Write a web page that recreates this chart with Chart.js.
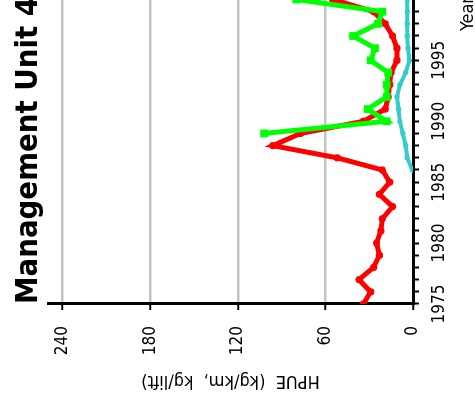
<!DOCTYPE html>
<html><head><meta charset="utf-8">
<script src="https://cdn.jsdelivr.net/npm/chart.js@4"></script>
<style>
html,body{margin:0;padding:0;width:475px;height:404px;overflow:hidden;background:#fff;}
#wrap{position:absolute;left:0;top:0;width:460px;height:493px;transform-origin:0 0;transform:translate(0px,404px) rotate(-90deg);}
</style></head><body>
<div id="wrap"><canvas id="c" width="460" height="493"></canvas></div>
<script>
// Data
const years = [1975,1976,1977,1978,1979,1980,1981,1982,1983,1984,1985,1986,1987,1988,1989,1990,1991,1992,1993,1994,1995,1996,1997,1998,1999,2000];
const redHPUE   = [34,29,37,27,23,25,22,21,14,23,16,21,52,96,77,34,19,17,16,15,11,11,14,19,27,55];
const greenHPUE = [null,null,null,null,null,null,null,null,null,null,null,null,null,null,102,18,31,18,18,17,29,26,41,24,21,80];
const cyanHPUE  = [null,null,null,null,null,null,null,null,null,null,null,0.5,4,5,7,9,10,11,9,5,2.5,3.5,4,4,4,4];
const hpueTicks = [0,60,120,180,240];
const yearLabelStep = 5;
const titleText = 'Management Unit 4';
const xTitle = 'Year';
const yTitle = 'HPUE  (kg/km,  kg/lift)';

const FONT = "'DejaVu Sans Condensed','DejaVu Sans',sans-serif";
const pts = arr => years.map((yr,i)=>({x:yr,y:arr[i]})).filter(p=>p.y!==null);

new Chart(document.getElementById('c'), {
  type: 'line',
  data: {
    datasets: [
      {data: pts(greenHPUE), borderColor:'#00ff00', backgroundColor:'#00ff00', borderWidth:5, pointStyle:'rect', pointRadius:5.5, pointBorderWidth:0},
      {data: pts(redHPUE), borderColor:'#ff0000', backgroundColor:'#ff0000', borderWidth:5, pointStyle:'circle', pointRadius:3.6, pointBorderWidth:0},
      {data: pts(cyanHPUE), borderColor:'#33cccc', backgroundColor:'#33cccc', borderWidth:4, pointStyle:'circle', pointRadius:2.6, pointBorderWidth:0}
    ]
  },
  options: {
    responsive:false, animation:false, devicePixelRatio:1,
    layout:{padding:{left:0,right:53,top:0,bottom:0}},
    plugins:{
      legend:{display:false}, tooltip:{enabled:false},
      title:{display:true, text:titleText, fullSize:false, color:'#000',
             font:{family:FONT, size:31, weight:'bold'}, padding:{top:10,bottom:0.8}}
    },
    scales:{
      x:{type:'linear', min:1975, max:2000.2, position:'bottom',
         afterBuildTicks: s => { s.ticks = s.ticks.filter(t => Number.isInteger(t.value)); },
         afterFit: s => { s.height = 80; },
         grid:{display:true, drawOnChartArea:false, drawTicks:true, tickLength:6, tickColor:'#000', tickWidth:2},
         border:{display:true, color:'#000', width:3},
         ticks:{stepSize:1, autoSkip:false, maxRotation:0, minRotation:0, padding:10, color:'#000',
                font:{family:FONT, size:17}, callback: v => (v % yearLabelStep === 0 ? String(v) : '')},
         title:{display:true, text:xTitle, align:'end', color:'#000', font:{family:FONT, size:18}, padding:{top:0,bottom:14}}
      },
      y:{type:'linear', min:0, max:250, position:'left',
         afterBuildTicks: s => { s.ticks = hpueTicks.map(v => ({value:v})); },
         afterFit: s => { s.width = 100; },
         grid:{display:true, drawOnChartArea:true, drawTicks:true, tickLength:6, tickColor:'#000', tickWidth:2,
               lineWidth:2.5, color: c => (c.tick && c.tick.value === 0 ? 'rgba(0,0,0,0)' : '#c4c4c4')},
         border:{display:true, color:'#000', width:3},
         ticks:{padding:16, color:'#000', font:{family:FONT, size:17}},
         title:{display:true, text:yTitle, color:'#000', font:{family:FONT, size:18}, padding:{top:12.7,bottom:0}}
      }
    }
  }
});
</script>
</body></html>
